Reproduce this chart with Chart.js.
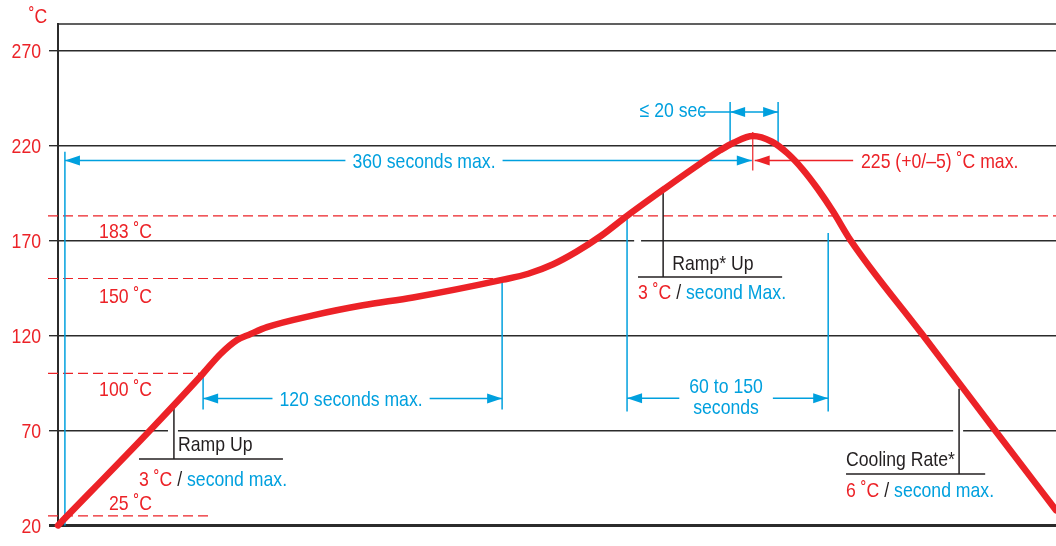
<!DOCTYPE html>
<html>
<head>
<meta charset="utf-8">
<script src="https://cdn.jsdelivr.net/npm/chart.js@4/dist/chart.umd.min.js"></script>
<style>
  html, body { margin: 0; padding: 0; background: #fff; }
  #wrap { width: 1056px; height: 546px; position: relative; }
</style>
</head>
<body>
<div id="wrap"><canvas id="reflow"></canvas></div>
<script>
// reflow profile: time in seconds, temperature in ˚C
const timeSec = [0, 47.9, 75.6, 84.4, 93.3, 100.1, 108.9, 132.9, 158.9, 185, 231.9, 245, 258, 270, 283, 296.5, 316.3, 334.6, 345, 352, 362, 372, 380, 388, 396, 404, 412.7, 450, 488.3, 520]
const tempC = [20, 70, 100, 110, 117.6, 120.7, 124.4, 130.6, 135.9, 140, 149.4, 152.5, 157.5, 164, 172.5, 183, 197.5, 210.5, 217.5, 221.5, 225, 222, 216, 207.5, 197, 185, 170.5, 121, 70, 28]
const yTicks = [20, 70, 120, 170, 220, 270]

// dashed reference temperatures and where each one stops (seconds)
const refTemps = [183, 150, 100, 25]
const refEndSec = [520, 231.4, 75.6, 79]

const red = "#ec2227"
const blue = "#00a0de"
const ink = "#231f20"
const family = "'Liberation Sans', Arial, sans-serif"
const font = "21px " + family
const squeeze = 0.84 // condensed look

const line = (ctx, x1, y1, x2, y2, color, width) => {
  ctx.strokeStyle = color
  ctx.lineWidth = width
  ctx.beginPath()
  ctx.moveTo(x1, y1)
  ctx.lineTo(x2, y2)
  ctx.stroke()
}

const arrowHead = (ctx, x, y, dir, color) => {
  ctx.fillStyle = color
  ctx.beginPath()
  ctx.moveTo(x, y)
  ctx.lineTo(x - dir * 15, y - 5)
  ctx.lineTo(x - dir * 15, y + 5)
  ctx.closePath()
  ctx.fill()
}

const measure = (ctx, str) => {
  ctx.font = font
  return ctx.measureText(str).width * squeeze
}

// text centred vertically on y (cap height)
const text = (ctx, str, x, y, color, align) => {
  const w = measure(ctx, str)
  const left = align === "right" ? x - w : align === "center" ? x - w / 2 : x
  ctx.save()
  ctx.translate(left, y + 7.5)
  ctx.scale(squeeze, 1)
  ctx.fillStyle = color
  ctx.textAlign = "left"
  ctx.textBaseline = "alphabetic"
  ctx.fillText(str, 0, 0)
  ctx.restore()
  return w
}

const rateLine = (ctx, x, y, deg, word) => {
  const parts = [[deg + " ˚C", red], [" / ", ink], [word, blue]]
  parts.forEach(([s, c]) => { x += text(ctx, s, x, y, c) })
}

const reflowNotes = {
  id: "reflowNotes",
  beforeDatasetsDraw(chart) {
    const { ctx, chartArea: area } = chart
    const X = (s) => chart.scales.x.getPixelForValue(s)
    const Y = (t) => chart.scales.y.getPixelForValue(t)
    ctx.save()

    // frame top, unit and tick labels
    line(ctx, area.left - 1, area.top, area.right, area.top, "#2b2b2b", 1.5)
    text(ctx, "˚C", area.left - 20, area.top - 9, red, "center")
    yTicks.forEach((v) => text(ctx, String(v), area.left - 17, Y(v), red, "right"))

    // gaps in the grid where callout leaders pass
    ctx.fillStyle = "#fff"
    ;[[70, 57.3, 62.5], [70, 466.4, 471.6], [170, 300.2, 303.8]].forEach(([t, a, b]) => {
      ctx.fillRect(X(a), Y(t) - 2, X(b) - X(a), 4)
    })

    // dashed reference temperatures
    ctx.setLineDash([10, 5])
    refTemps.forEach((t, i) => line(ctx, area.left - 10, Y(t), X(refEndSec[i]), Y(t), red, 1.2))
    ctx.setLineDash([])
    const refLabelAt = [175.5, 141, 92, 32]
    refTemps.forEach((t, i) => text(ctx, t + " ˚C", X(49), Y(refLabelAt[i]), red, "right"))

    // 360 seconds max.
    const yTot = Y(212.1)
    line(ctx, X(3.6), Y(20), X(3.6), Y(216.8), blue, 1.5)
    const w360 = measure(ctx, "360 seconds max.")
    const c360 = X(190.7)
    line(ctx, X(3.6), yTot, c360 - w360 / 2 - 7, yTot, blue, 1.5)
    line(ctx, c360 + w360 / 2 + 7, yTot, X(361.5), yTot, blue, 1.5)
    arrowHead(ctx, X(3.6), yTot, -1, blue)
    arrowHead(ctx, X(361.5), yTot, 1, blue)
    text(ctx, "360 seconds max.", c360, yTot, blue, "center")

    // peak 225 ˚C
    line(ctx, X(362), Y(227.2), X(362), Y(206.8), red, 1.2)
    line(ctx, X(363), yTot, X(414.3), yTot, red, 1.5)
    arrowHead(ctx, X(363), yTot, -1, red)
    text(ctx, "225 (+0/–5) ˚C max.", X(418.4), yTot, red)

    // ≤ 20 sec
    const y20 = Y(237.6)
    line(ctx, X(350.2), Y(220.4), X(350.2), Y(242.9), blue, 1.5)
    line(ctx, X(375.2), Y(218.4), X(375.2), Y(242.9), blue, 1.5)
    text(ctx, "≤ 20 sec", X(337.7), Y(239), blue, "right")
    line(ctx, X(337.7) - 6, y20, X(375.2), y20, blue, 1.5)
    arrowHead(ctx, X(350.2), y20, -1, blue)
    arrowHead(ctx, X(375.2), y20, 1, blue)

    // 120 seconds max.
    const y120 = Y(86.8)
    line(ctx, X(75.6), Y(100), X(75.6), Y(81), blue, 1.5)
    line(ctx, X(231.4), Y(150), X(231.4), Y(81), blue, 1.5)
    const w120 = measure(ctx, "120 seconds max.")
    const c120 = X(152.7)
    line(ctx, X(75.6), y120, c120 - w120 / 2 - 7, y120, blue, 1.5)
    line(ctx, c120 + w120 / 2 + 7, y120, X(231.4), y120, blue, 1.5)
    arrowHead(ctx, X(75.6), y120, -1, blue)
    arrowHead(ctx, X(231.4), y120, 1, blue)
    text(ctx, "120 seconds max.", c120, y120, blue, "center")

    // 60 to 150 seconds
    const y60 = Y(87)
    line(ctx, X(296.5), Y(183), X(296.5), Y(80), blue, 1.5)
    line(ctx, X(401.3), Y(174), X(401.3), Y(80), blue, 1.5)
    const w60 = measure(ctx, "60 to 150")
    const c60 = X(348.1)
    line(ctx, X(296.5), y60, c60 - w60 / 2 - 10, y60, blue, 1.5)
    line(ctx, c60 + w60 / 2 + 10, y60, X(401.3), y60, blue, 1.5)
    arrowHead(ctx, X(296.5), y60, -1, blue)
    arrowHead(ctx, X(401.3), y60, 1, blue)
    text(ctx, "60 to 150", c60, Y(93.6), blue, "center")
    text(ctx, "seconds", c60, Y(82.6), blue, "center")

    // callouts
    const callouts = [
      { lead: 60.4, top: 81.6, base: 55, from: 42.2, to: 117.2, title: "Ramp Up", titleAt: 62.5, titleT: 63.3, rateT: 44.5, deg: 3, word: "second max." },
      { lead: 315.3, top: 197, base: 150.8, from: 302.2, to: 377.3, title: "Ramp* Up", titleAt: 320, titleT: 158.3, rateT: 143.2, deg: 3, word: "second Max." },
      { lead: 469.5, top: 91.9, base: 47, from: 410.6, to: 483.1, title: "Cooling Rate*", titleAt: 410.6, titleT: 55, rateT: 38.8, deg: 6, word: "second max." },
    ]
    callouts.forEach((c) => {
      line(ctx, X(c.lead), Y(c.top), X(c.lead), Y(c.base), ink, 1.5)
      line(ctx, X(c.from), Y(c.base), X(c.to), Y(c.base), ink, 1.5)
      text(ctx, c.title, X(c.titleAt), Y(c.titleT), ink)
      rateLine(ctx, X(c.from), Y(c.rateT), c.deg, c.word)
    })

    ctx.restore()
  },
}

new Chart(document.getElementById("reflow"), {
  type: "line",
  data: {
    datasets: [
      {
        data: timeSec.map((s, i) => ({ x: s, y: tempC[i] })),
        borderColor: red,
        borderWidth: 6.5,
        borderCapStyle: "round",
        borderJoinStyle: "round",
        pointRadius: 0,
        cubicInterpolationMode: "monotone",
        clip: false,
      },
    ],
  },
  options: {
    responsive: true,
    maintainAspectRatio: false,
    animation: false,
    layout: { padding: { top: 24, bottom: 16, left: 0, right: 0 } },
    plugins: { legend: { display: false }, tooltip: { enabled: false } },
    scales: {
      x: { type: "linear", min: 0, max: 520, display: false },
      y: {
        min: 20,
        max: 284,
        afterBuildTicks: (s) => { s.ticks = yTicks.map((v) => ({ value: v })) },
        afterFit: (s) => { s.width = 58 },
        border: { color: "#2b2b2b", width: 2 },
        grid: {
          color: "#2b2b2b",
          lineWidth: (c) => (c.tick && c.tick.value === 20 ? 3 : 1.4),
          tickLength: 9,
        },
        // labels are drawn condensed by the plugin
        ticks: { color: "rgba(0,0,0,0)", font: { family, size: 21 }, padding: 8 },
      },
    },
  },
  plugins: [reflowNotes],
})
</script>
</body>
</html>
